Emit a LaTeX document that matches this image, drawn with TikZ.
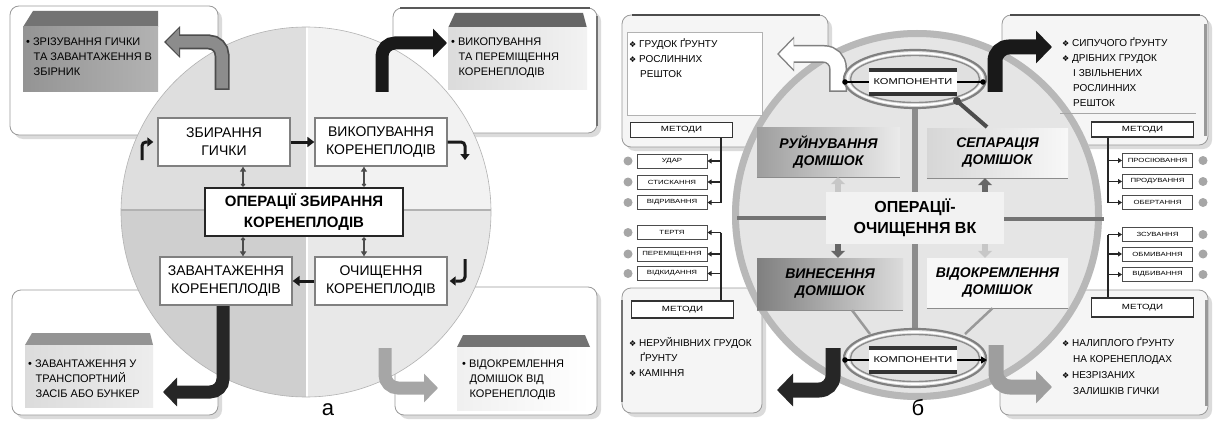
\documentclass[tikz,border=0pt]{standalone}
\usepackage{fontspec}
\setmainfont{Liberation Sans}
\newfontfamily\dvsfont{DejaVu Sans}
\newfontfamily\widef[FakeStretch=1.3]{Liberation Sans}
\usetikzlibrary{arrows.meta}
\newcommand\dmd{{\dvsfont\fontsize{8}{8}\selectfont ❖}}
\newcommand\ind{\hspace*{7.5pt}}
\newcommand\indb{\hspace*{11pt}}
\begin{document}
\begin{tikzpicture}[x=1pt,y=-1pt,
  outerbox/.style={draw=black!40, line width=0.8pt, fill=white, rounded corners=9pt},
  shadowbox/.style={fill=black!14, rounded corners=9pt},
  cbox/.style={draw=black!50, line width=1.3pt, fill=white, minimum width=132pt, minimum height=48pt, align=center, inner sep=1pt, font=\fontsize{14}{18}\selectfont},
  cmain/.style={draw=black!85, line width=2.6pt, fill=white, minimum width=198pt, minimum height=48pt, align=center, inner sep=1pt, font=\bfseries\fontsize{15}{21}\selectfont},
  btxt/.style={anchor=north west, align=left, inner sep=0pt, font=\fontsize{11}{15}\selectfont},
  ctxt/.style={anchor=north west, align=left, inner sep=0pt, font=\fontsize{10}{15}\selectfont},
  fat/.style={line width=13pt, rounded corners=13pt, -{Triangle[length=14pt,width=28pt]}},
  fatb/.style={line width=15pt, rounded corners=14pt, -{Triangle[length=16pt,width=32pt]}},
  flowarr/.style={black!90, line width=3pt, rounded corners=4pt, -{Triangle[length=6pt,width=9pt]}},
  straightarr/.style={black!90, line width=3pt, -{Triangle[length=7pt,width=10pt]}},
  linkline/.style={black!70, line width=1.3pt, {Circle[length=4pt]}-{Triangle[length=5pt,width=6pt]}},
  kbox/.style={fill=white, minimum width=88pt, minimum height=24pt, inner sep=0pt, font=\widef\fontsize{8.5}{9}\selectfont},
  kbar/.style={black!80, line width=4.5pt},
  mbox/.style={draw=black!70, line width=1pt, fill=white, minimum width=70pt, minimum height=14pt, inner sep=0pt, font=\widef\fontsize{6}{7}\selectfont},
  metbox/.style={draw=black!80, line width=1.5pt, fill=white, minimum width=102pt, minimum height=15pt, inner sep=0pt, font=\widef\fontsize{7.5}{8}\selectfont},
  onode/.style={align=center, inner sep=1pt, font=\bfseries\itshape\fontsize{14}{17}\selectfont},
  uline/.style={black!45, line width=1.2pt},
  blockarr/.style={line width=6pt, -{Triangle[length=7pt,width=14pt]}},
  branch/.style={black!85, line width=1.2pt, -{Triangle[length=4pt,width=5pt]}},
  trunk/.style={black!85, line width=1.4pt},
  bul/.style={fill=black!35},
  lbl/.style={font=\fontsize{22}{22}\selectfont, inner sep=0pt}
]
\useasboundingbox (0,0) rectangle (1224,428);
\fill[white] (0,0) rectangle (1224,428);

% ================= PANEL A =================
\fill[shadowbox] (14,10) rectangle (222,139);
\draw[outerbox] (10,6) rectangle (218,135);
\fill[shadowbox] (397,12) rectangle (601,137);
\draw[outerbox] (393,8) rectangle (597,133);
\fill[shadowbox] (16,294) rectangle (222,419);
\draw[outerbox] (12,290) rectangle (218,415);
\fill[shadowbox] (399,291) rectangle (601,419);
\draw[outerbox] (395,287) rectangle (597,415);
\draw[black!65, line width=1.5pt] (400,8) -- (590,8);
\draw[black!55, line width=1.5pt] (597,16) -- (597,126);

% circle quadrants
\begin{scope}
  \clip (100,0) rectangle (305.8,210);
  \fill[black!13] (306,212) circle (185);
\end{scope}
\begin{scope}
  \clip (308.2,0) rectangle (520,210);
  \fill[black!5] (306,212) circle (185);
\end{scope}
\begin{scope}
  \clip (100,210) rectangle (305.8,428);
  \fill[black!19] (306,212) circle (185);
\end{scope}
\begin{scope}
  \clip (308.2,210) rectangle (520,428);
  \fill[black!9] (306,212) circle (185);
\end{scope}
\draw[black!30, line width=0.6pt] (306,212) circle (185);
\draw[black!30, line width=1.2pt] (121,210) -- (491,210);

% 3D boxes
\fill[black!55] (23,27) -- (33,11) -- (158,11) -- (158,27) -- cycle;
\shade[left color=black!42, right color=black!30] (23,27) rectangle (158,92);
\node[btxt] (ta1) at (26,38) {• ЗРІЗУВАННЯ ГИЧКИ\\\ind ТА ЗАВАНТАЖЕННЯ В\\\ind ЗБІРНИК};

\fill[black!60] (448,28) -- (455,13) -- (583,13) -- (587,28) -- cycle;
\shade[left color=black!14, right color=black!5] (448,28) rectangle (587,90);
\node[btxt] (ta2) at (451,38) {• ВИКОПУВАННЯ\\\ind ТА ПЕРЕМІЩЕННЯ\\\ind КОРЕНЕПЛОДІВ};

\fill[black!42] (25,345) -- (32,333) -- (150,333) -- (153,345) -- cycle;
\shade[left color=black!14, right color=black!7] (25,345) rectangle (153,407);
\node[btxt] (ta3) at (28,360) {• ЗАВАНТАЖЕННЯ У\\\ind ТРАНСПОРТНИЙ\\\ind ЗАСІБ АБО БУНКЕР};

\fill[black!55] (457,347) -- (463,335) -- (585,335) -- (590,347) -- cycle;
\shade[left color=black!6, right color=white] (457,347) rectangle (590,410);
\node[btxt] (ta4) at (462,360) {• ВІДОКРЕМЛЕННЯ\\\ind ДОМІШОК ВІД\\\ind КОРЕНЕПЛОДІВ};

% bent arrows
\draw[line width=15pt, rounded corners=13pt, black!70, -{Triangle[length=16pt,width=31pt]}] (222,90) -- (222,42) -- (164,42);
\draw[line width=11.5pt, rounded corners=13pt, black!45, -{Triangle[length=13pt,width=26pt]}, shorten >=2pt] (222,88.5) -- (222,42) -- (164,42);
\draw[fat, black!90] (382,92) -- (382,43) -- (447,43);
\draw[fat, black!85] (223,293) -- (223,392) -- (163,392);
\draw[fat, black!35] (385,348) -- (385,388) -- (438,388);

% central nodes
\node[cbox] (n1) at (224,142) {ЗБИРАННЯ\\ГИЧКИ};
\node[cbox] (n2) at (381,142) {ВИКОПУВАННЯ\\КОРЕНЕПЛОДІВ};
\node[cmain] (cm) at (304,212) {ОПЕРАЦІЇ ЗБИРАННЯ\\КОРЕНЕПЛОДІВ};
\node[cbox] (n3) at (226,281) {ЗАВАНТАЖЕННЯ\\КОРЕНЕПЛОДІВ};
\node[cbox] (n4) at (381,281) {ОЧИЩЕННЯ\\КОРЕНЕПЛОДІВ};

\draw[straightarr] (n1) -- (n2);
\draw[straightarr] (n4) -- (n3);
\coordinate (fa1) at (142,160);
\draw[flowarr, shorten >=4pt] (fa1) |- (n1.west);
\coordinate (fa2) at (465,160);
\draw[flowarr] (n2.east) -| (fa2);
\coordinate (fa3) at (465,259);
\draw[flowarr, shorten >=2pt] (fa3) |- (n4.east);

\path (n1.south) ++(19,0) coordinate (l1);
\draw[linkline] (l1 |- cm.north) -- (l1);
\path (n2.south) ++(-17,0) coordinate (l2);
\draw[linkline] (l2 |- cm.north) -- (l2);
\path (n3.north) ++(17,0) coordinate (l3);
\draw[linkline] (l3 |- cm.south) -- (l3);
\path (n4.north) ++(-17,0) coordinate (l4);
\draw[linkline] (l4 |- cm.south) -- (l4);

\node[lbl] (la) at (328,410) {а};

% ================= PANEL B =================
\fill[shadowbox] (626,19) rectangle (832,151);
\draw[outerbox, fill=black!4] (622,15) rectangle (828,147);
\fill[shadowbox] (1006,19) rectangle (1212,149);
\draw[outerbox, fill=black!4] (1002,15) rectangle (1208,145);
\fill[shadowbox] (626,292) rectangle (766,417);
\draw[outerbox, fill=black!4] (622,288) rectangle (762,413);
\fill[shadowbox] (1004,294) rectangle (1212,419);
\draw[outerbox, fill=black!4] (1000,290) rectangle (1208,415);
\draw[black!70, line width=1.5pt] (632,15) -- (820,15);
\draw[black!70, line width=1.5pt] (1010,15) -- (1200,15);
\draw[black!40, line width=3pt] (1205,24) -- (1205,136);
\draw[black!40, line width=3pt] (1206,300) -- (1206,406);
\draw[black!55, line width=1.5pt] (622,300) -- (622,402);

% big circle
\fill[black!10] (917,215) circle (185);
\draw[black!28, line width=7pt] (917,215) circle (181.5);

% dividers
\draw[black!45, line width=6pt] (915,106) -- (915,192);
\draw[black!45, line width=6pt] (915,244) -- (915,332);
\draw[black!55, line width=4pt] (737,218) -- (826,218);
\draw[black!55, line width=4pt] (1004,219) -- (1104,219);

% inner text areas
\draw[black!30, fill=white] (627,32) rectangle (762,115);
\draw[black!35, line width=1pt] (1060,113) -- (1196,113);
\node[ctxt] (tb1) at (629,38) {\dmd\ ГРУДОК ҐРУНТУ\\\dmd\ РОСЛИННИХ\\\indb РЕШТОК};
\node[ctxt] (tb2) at (1062,37) {\dmd\ СИПУЧОГО ҐРУНТУ\\\dmd\ ДРІБНИХ ГРУДОК\\\indb І ЗВІЛЬНЕНИХ\\\indb РОСЛИННИХ\\\indb РЕШТОК};
\node[ctxt] (tb3) at (629,337) {\dmd\ НЕРУЙНІВНИХ ГРУДОК\\\indb ҐРУНТУ\\\dmd\ КАМІННЯ};
\node[ctxt, font=\fontsize{10}{16}\selectfont] (tb4) at (1062,337) {\dmd\ НАЛИПЛОГО ҐРУНТУ\\\indb НА КОРЕНЕПЛОДАХ\\\dmd\ НЕЗРІЗАНИХ\\\indb ЗАЛИШКІВ ГИЧКИ};

% methods
\node[metbox] (mTL) at (681.5,130) {МЕТОДИ};
\node[metbox] (mTR) at (1142.5,129.5) {МЕТОДИ};
\node[metbox, minimum height=17pt] (mBL) at (682.5,309.5) {МЕТОДИ};
\node[metbox, minimum height=19pt] (mBR) at (1142.5,307.5) {МЕТОДИ};

\foreach \i/\yy/\mt in {1/161/УДАР, 2/182/СТИСКАННЯ, 3/202.5/ВІДРИВАННЯ, 4/232.5/ТЕРТЯ, 5/254/ПЕРЕМІЩЕННЯ, 6/273.5/ВІДКИДАННЯ}{
  \node[mbox] (ml\i) at (672,\yy) {\mt};
  \fill[bul] (628,\yy) circle (4.5);
}
\foreach \i/\yy/\mt in {1/160.5/ПРОСІЮВАННЯ, 2/181.5/ПРОДУВАННЯ, 3/202.5/ОБЕРТАННЯ, 4/234.5/ЗСУВАННЯ, 5/254/ОБМИВАННЯ, 6/274.5/ВІДБИВАННЯ}{
  \node[mbox] (mr\i) at (1157.5,\yy) {\mt};
  \fill[bul] (1203,\yy) circle (4.5);
}
\coordinate (tl1) at (721,203);
\draw[trunk] (mTL.south -| tl1) -- (tl1);
\foreach \i in {1,2,3} \draw[branch] (ml\i.east -| tl1) -- (ml\i.east);
\coordinate (tl2) at (721,232.5);
\draw[trunk] (tl2) -- (mBL.north -| tl2);
\foreach \i in {4,5,6} \draw[branch] (ml\i.east -| tl2) -- (ml\i.east);
\coordinate (tr1) at (1108,202.5);
\draw[trunk] (mTR.south -| tr1) -- (tr1);
\foreach \i in {1,2,3} \draw[branch] (mr\i.west -| tr1) -- (mr\i.west);
\coordinate (tr2) at (1108,234.5);
\draw[trunk] (tr2) -- (mBR.north -| tr2);
\foreach \i in {4,5,6} \draw[branch] (mr\i.west -| tr2) -- (mr\i.west);

% bent arrows of panel b
\draw[line width=18pt, rounded corners=14pt, black!50, -{Triangle[length=17pt,width=34pt]}] (838,92) -- (838,54) -- (777,54);
\draw[line width=15pt, rounded corners=14pt, white, -{Triangle[length=14.5pt,width=29pt]}, shorten >=2pt] (838,90.5) -- (838,54) -- (777,54);
\draw[fatb, black!90] (995,92) -- (995,47) -- (1052,47);
\draw[fatb, black!85] (833,348) -- (833,390) -- (777,390);
\draw[fatb, black!38] (996,345) -- (996,387) -- (1052,387);

% ellipses
\foreach \ey in {79,358}{
  \fill[black!12] (915,\ey) ellipse [x radius=71, y radius=29];
  \draw[black!50, line width=2.2pt] (915,\ey) ellipse [x radius=71, y radius=29];
  \draw[white, line width=1.6pt] (915,\ey) ellipse [x radius=67.5, y radius=26];
  \draw[black!45, line width=1.4pt] (915,\ey) ellipse [x radius=64.5, y radius=23.5];
}
\node[kbox] (kt) at (913,82) {КОМПОНЕНТИ};
\draw[kbar] (kt.north west) -- (kt.north east);
\draw[kbar] (kt.south west) -- (kt.south east);
\coordinate (ktl) at (845,82);
\coordinate (ktr) at (983,82);
\draw[black, line width=1.3pt] (kt.west) -- (ktl);
\draw[black, line width=1.3pt] (kt.east) -- (ktr);
\fill (ktl) circle (2.8);
\fill (ktr) circle (2.8);

\node[kbox] (kb) at (913,360) {КОМПОНЕНТИ};
\draw[kbar] (kb.north west) -- (kb.north east);
\draw[kbar] (kb.south west) -- (kb.south east);
\coordinate (kbl) at (845,360);
\coordinate (kbr) at (987,360);
\draw[black, line width=1.3pt] (kb.west) -- (kbl);
\fill (kbl) circle (2.8);
\draw[black, line width=1.3pt, -{Triangle[length=6pt,width=7pt]}] (kb.east) -- (kbr);

% process nodes
\node[onode, minimum width=143pt, minimum height=50pt, left color=black!38, right color=black!8] (r1) at (828.5,152) {РУЙНУВАННЯ\\ДОМІШОК};
\node[onode, minimum width=141pt, minimum height=50pt, left color=black!16, right color=black!3] (r2) at (997.5,153) {СЕПАРАЦІЯ\\ДОМІШОК};
\node[onode, minimum width=146pt, minimum height=52pt, left color=black!50, right color=black!14] (r3) at (830,284) {ВИНЕСЕННЯ\\ДОМІШОК};
\node[onode, minimum width=141pt, minimum height=50pt, fill=black!3] (r4) at (997.5,283) {ВІДОКРЕМЛЕННЯ\\ДОМІШОК};
\foreach \r in {r1,r2,r3,r4} \draw[uline] (\r.south west) -- (\r.south east);

\coordinate (dg1) at (957,101);
\coordinate (dg2) at (987,127);
\draw[black!70, line width=4pt] (dg1) -- (dg2);
\fill[black!70] (dg1) circle (4);
\path (r3.south) ++(22,0) coordinate (bl1);
\coordinate (bl2) at (870,334);
\draw[black!40, line width=2.5pt] (bl1) -- (bl2);
\path (r4.south) ++(-5,0) coordinate (br1);
\coordinate (br2) at (965,334);
\draw[black!40, line width=2.5pt] (br1) -- (br2);

\node[align=center, fill=black!5, minimum width=178pt, minimum height=52pt, inner sep=1pt, font=\bfseries\fontsize{16}{21}\selectfont] (ctr) at (915,218) {ОПЕРАЦІЇ-\\ОЧИЩЕННЯ ВК};

\coordinate (xa) at (838,0);
\coordinate (xb) at (985,0);
\draw[blockarr, black!22] (xa |- ctr.north) -- (xa |- r1.south);
\draw[blockarr, black!60] (xb |- ctr.north) -- (xb |- r2.south);
\draw[blockarr, black!60] (xa |- ctr.south) -- (xa |- r3.north);
\draw[blockarr, black!22] (xb |- ctr.south) -- (xb |- r4.north);

\node[lbl] (lb) at (918,408) {б};
\end{tikzpicture}
\end{document}
